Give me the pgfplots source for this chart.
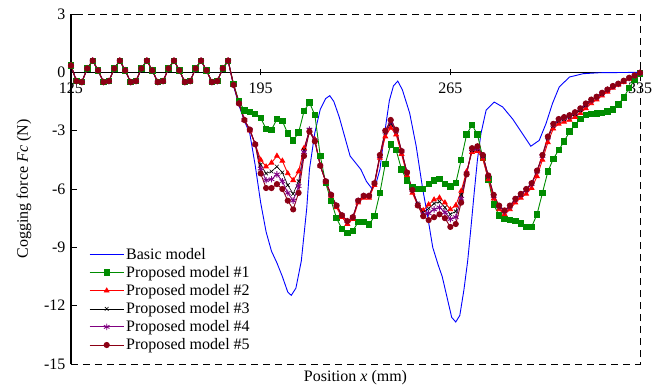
\documentclass[border=0pt]{standalone}
\usepackage{pgfplots}
\pgfplotsset{compat=1.18}
\usepackage{pgfplotstable}
\usepackage{fontspec}
\setmainfont{Liberation Serif}
\newcommand{\ff}{\fontsize{16}{18}\selectfont}
\definecolor{mgreen}{RGB}{0,140,0}
\definecolor{mpurple}{RGB}{128,0,128}
\definecolor{mdark}{RGB}{140,0,20}

\pgfplotstableread{
x m1 m2 m3 m4 m5
125 0.35 0.35 0.35 0.35 0.35
127 -0.45 -0.45 -0.45 -0.45 -0.45
129 -0.5 -0.5 -0.5 -0.5 -0.5
131 0.2 0.2 0.2 0.2 0.2
133 0.6 0.6 0.6 0.6 0.6
135 0.1 0.1 0.1 0.1 0.1
137 -0.5 -0.5 -0.5 -0.5 -0.5
139 -0.45 -0.45 -0.45 -0.45 -0.45
141 0.2 0.2 0.2 0.2 0.2
143 0.6 0.6 0.6 0.6 0.6
145 0.1 0.1 0.1 0.1 0.1
147 -0.5 -0.5 -0.5 -0.5 -0.5
149 -0.45 -0.45 -0.45 -0.45 -0.45
151 0.2 0.2 0.2 0.2 0.2
153 0.6 0.6 0.6 0.6 0.6
155 0.1 0.1 0.1 0.1 0.1
157 -0.5 -0.5 -0.5 -0.5 -0.5
159 -0.45 -0.45 -0.45 -0.45 -0.45
161 0.2 0.2 0.2 0.2 0.2
163 0.6 0.6 0.6 0.6 0.6
165 0.1 0.1 0.1 0.1 0.1
167 -0.5 -0.5 -0.5 -0.5 -0.5
169 -0.45 -0.45 -0.45 -0.45 -0.45
171 0.2 0.2 0.2 0.2 0.2
173 0.6 0.6 0.6 0.6 0.6
175 0.1 0.1 0.1 0.1 0.1
177 -0.5 -0.5 -0.5 -0.5 -0.5
179 -0.45 -0.45 -0.45 -0.45 -0.45
181 0.2 0.2 0.2 0.2 0.2
183 0.6 0.6 0.6 0.6 0.6
185 -0.6 -0.65 -0.65 -0.65 -0.65
187 -1.5 -1.6 -1.6 -1.6 -1.6
189 -1.95 -2.45 -2.45 -2.45 -2.45
191 -2.05 -3.0 -2.95 -2.95 -2.95
193 -2.13 -3.7 -3.7 -3.7 -3.7
195 -2.35 -4.5 -4.75 -4.95 -5.2
197 -2.9 -4.85 -5.2 -5.55 -5.95
199 -2.95 -4.65 -5.1 -5.5 -5.95
201 -2.4 -4.3 -4.85 -5.25 -5.75
203 -2.5 -4.55 -5.15 -5.6 -6.0
205 -3.15 -5.2 -5.8 -6.2 -6.6
207 -3.5 -5.55 -6.25 -6.6 -7.05
209 -3.1 -5.1 -5.6 -5.85 -6.2
211 -2.0 -3.9 -4.0 -4.1 -4.3
213 -1.55 -3.0 -2.95 -2.95 -3.05
215 -2.2 -3.45 -3.5 -3.5 -3.55
217 -4.3 -4.8 -4.8 -4.8 -4.8
219 -5.7 -5.65 -5.6 -5.6 -5.6
221 -6.6 -6.35 -6.3 -6.3 -6.3
223 -7.5 -6.95 -6.85 -6.85 -6.85
225 -8.05 -7.45 -7.35 -7.35 -7.35
227 -8.25 -7.8 -7.65 -7.65 -7.65
229 -8.15 -7.55 -7.45 -7.45 -7.45
231 -7.7 -6.7 -6.6 -6.6 -6.6
233 -7.7 -6.45 -6.35 -6.35 -6.35
235 -7.82 -6.45 -6.35 -6.35 -6.35
237 -7.4 -5.8 -5.7 -5.7 -5.7
239 -6.2 -4.4 -4.3 -4.3 -4.25
241 -4.7 -3.3 -3.1 -3.05 -3.0
243 -3.7 -2.85 -2.65 -2.55 -2.45
245 -4.0 -3.2 -3.05 -3.0 -2.95
247 -5.0 -4.2 -4.05 -4.05 -4.05
249 -5.55 -5.3 -5.15 -5.15 -5.15
251 -5.9 -6.2 -6.05 -6.05 -6.05
253 -6.0 -6.85 -6.75 -6.8 -6.85
255 -6.0 -7.1 -7.2 -7.3 -7.4
257 -5.75 -6.8 -7.0 -7.25 -7.6
259 -5.55 -6.55 -6.75 -7.05 -7.45
261 -5.47 -6.45 -6.65 -6.95 -7.3
263 -5.75 -6.7 -6.95 -7.2 -7.5
265 -5.87 -7.05 -7.3 -7.55 -7.95
267 -5.7 -6.85 -7.15 -7.45 -7.8
269 -4.5 -6.1 -6.3 -6.5 -6.7
271 -3.2 -5.1 -5.2 -5.2 -5.25
273 -2.7 -4.1 -4.0 -3.95 -3.9
275 -3.2 -4.05 -3.95 -3.9 -3.8
277 -4.4 -4.45 -4.3 -4.3 -4.25
279 -5.5 -5.5 -5.35 -5.35 -5.3
281 -6.8 -6.5 -6.35 -6.35 -6.3
283 -7.35 -7.05 -6.9 -6.9 -6.85
285 -7.55 -7.3 -7.15 -7.15 -7.1
287 -7.6 -7.05 -6.9 -6.9 -6.85
289 -7.65 -6.7 -6.55 -6.55 -6.5
291 -7.78 -6.45 -6.3 -6.3 -6.25
293 -7.95 -6.25 -6.05 -6.05 -6.0
295 -7.95 -5.95 -5.75 -5.75 -5.7
297 -7.3 -5.35 -5.1 -5.1 -5.05
299 -6.2 -4.5 -4.3 -4.3 -4.25
301 -5.1 -3.6 -3.4 -3.35 -3.3
303 -4.45 -2.9 -2.75 -2.7 -2.65
305 -4.0 -2.65 -2.5 -2.45 -2.4
307 -3.55 -2.55 -2.4 -2.35 -2.3
309 -3.05 -2.45 -2.3 -2.25 -2.2
311 -2.7 -2.3 -2.15 -2.1 -2.05
313 -2.4 -2.1 -1.95 -1.9 -1.85
315 -2.2 -1.85 -1.7 -1.65 -1.6
317 -2.14 -1.6 -1.45 -1.45 -1.4
319 -2.12 -1.4 -1.3 -1.28 -1.25
321 -2.09 -1.2 -1.1 -1.08 -1.05
323 -2.02 -1.0 -0.9 -0.9 -0.88
325 -1.9 -0.8 -0.72 -0.72 -0.7
327 -1.65 -0.65 -0.6 -0.6 -0.58
329 -1.3 -0.5 -0.45 -0.45 -0.43
331 -0.8 -0.33 -0.3 -0.3 -0.28
333 -0.4 -0.18 -0.17 -0.17 -0.16
335 -0.05 -0.03 -0.03 -0.03 -0.02
}\models

\pgfplotstableread{
x y
125 0.35
127 -0.45
129 -0.5
131 0.2
133 0.6
135 0.1
137 -0.5
139 -0.45
141 0.2
143 0.6
145 0.1
147 -0.5
149 -0.45
151 0.2
153 0.6
155 0.1
157 -0.5
159 -0.45
161 0.2
163 0.6
165 0.1
167 -0.5
169 -0.45
171 0.2
173 0.6
175 0.1
177 -0.5
179 -0.45
181 0.2
183 0.6
185 -0.7
187 -1.7
189 -2.5
191 -3.15
193 -4.8
195 -6.7
197 -8.2
199 -9.2
201 -9.8
203 -10.5
205 -11.3
206.3 -11.47
208 -11.1
210 -9.7
212 -7.0
213 -5.0
215 -3.1
217 -1.9
219 -1.35
220.5 -1.2
222 -1.5
224 -2.3
226 -3.3
228 -4.3
230 -4.65
232 -5.0
234 -5.6
236 -5.97
237.6 -5.7
239 -5.0
240 -3.9
241.3 -2.6
242.5 -1.45
244 -0.7
245.6 -0.45
247.3 -0.9
250 -2.1
252.4 -3.8
254.8 -6.0
256.5 -7.3
258.5 -9.0
260.5 -9.9
262 -10.5
263.5 -11.4
265.5 -12.6
267 -12.84
268.5 -12.5
270 -11.2
271.4 -9.7
272.6 -8.0
273.8 -6.2
275 -4.5
276.3 -3.15
278.2 -1.95
281.2 -1.53
284.3 -1.78
288 -2.4
291.6 -3.15
294.7 -3.8
297.8 -3.5
300.3 -2.64
302.7 -1.6
305.2 -0.75
309 -0.24
314 -0.07
320 -0.02
335 0
}\basic

\begin{document}
\begin{tikzpicture}
\begin{axis}[
  scale only axis,
  width=569pt, height=350pt,
  xmin=125, xmax=335, ymin=-15, ymax=3,
  axis x line*=middle, axis y line*=left,
  hide obscured x ticks=false, hide obscured y ticks=false,
  axis line style={black, line width=1.2pt},
  xtick={125,195,265,335}, ytick={-15,-12,-9,-6,-3,0,3},
  x tick style={black, line width=0.8pt}, y tick style={black, line width=0.8pt},
  xtick align=center, ytick align=inside,
  major tick length=6pt,
  tick label style={font=\ff},
  xticklabel style={yshift=-4pt},
  yticklabel style={xshift=-2pt},
  /pgf/number format/assume math mode=true,
  ylabel={Cogging force \textit{Fc} (N)},
  ylabel style={font=\ff, yshift=6pt},
  legend style={at={(rel axis cs:0.03,0.34)}, anchor=north west, draw=none, fill=none, font=\ff, row sep=1.5pt, inner sep=1pt},
  legend cell align=left,
  legend image code/.code={\draw[mark repeat=2,mark phase=2,#1] plot coordinates {(0pt,0pt) (17pt,0pt) (34pt,0pt)};},
  clip=false,
]
\addplot[blue, line width=0.9pt, no markers] table[x=x,y=y] {\basic};
\addlegendentry{Basic model}
\addplot[mgreen, line width=0.9pt, mark=square*, mark size=2.7pt, mark options={solid}] table[x=x,y=m1] {\models};
\addlegendentry{Proposed model \#1}
\addplot[red, line width=0.9pt, mark=triangle*, mark size=2.6pt] table[x=x,y=m2] {\models};
\addlegendentry{Proposed model \#2}
\addplot[black, line width=0.6pt, mark=x, mark size=2.6pt] table[x=x,y=m3] {\models};
\addlegendentry{Proposed model \#3}
\addplot[mpurple, line width=0.9pt, mark=asterisk, mark size=3.2pt] table[x=x,y=m4] {\models};
\addlegendentry{Proposed model \#4}
\addplot[mdark, line width=0.9pt, mark=*, mark size=2.6pt] table[x=x,y=m5] {\models};
\addlegendentry{Proposed model \#5}
\draw[black, line width=0.8pt, dash pattern=on 7pt off 5pt] (rel axis cs:0,0) -- (rel axis cs:1,0) -- (rel axis cs:1,1) -- (rel axis cs:0,1);
\draw[black, line width=1.2pt] (rel axis cs:0,0) -- (rel axis cs:0,1);
\node[font=\ff, anchor=north] at (rel axis cs:0.5,0) [yshift=-3pt] {Position \textit{x} (mm)};
\coordinate (BL) at (rel axis cs:0,0);
\coordinate (TR) at (rel axis cs:1,1);
\end{axis}
\path (BL) ++(-71pt,-25pt);
\path (TR) ++(24pt,14pt);
\end{tikzpicture}
\end{document}
